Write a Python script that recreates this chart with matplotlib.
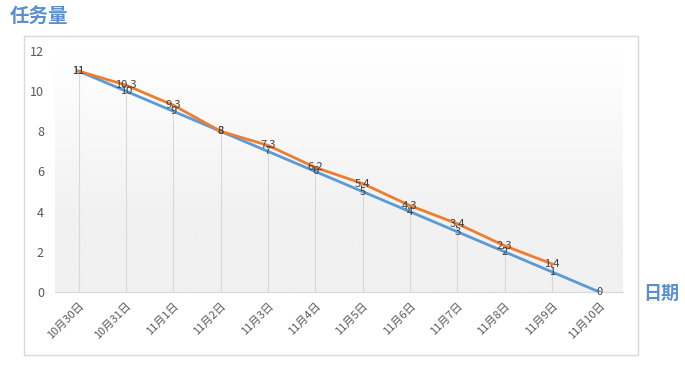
import matplotlib
matplotlib.use("Agg")
from matplotlib import pyplot as plt
import numpy as np

plt.rcParams["font.family"] = ["Noto Sans CJK SC", "DejaVu Sans"]

dates = ["10月30日", "10月31日", "11月1日", "11月2日", "11月3日", "11月4日",
         "11月5日", "11月6日", "11月7日", "11月8日", "11月9日", "11月10日"]
planned = [11, 10, 9, 8, 7, 6, 5, 4, 3, 2, 1, 0]
actual = [11, 10.3, 9.3, 8, 7.3, 6.2, 5.4, 4.3, 3.4, 2.3, 1.4]

blue = "#5B9BD5"
orange = "#ED7D31"
label_color = "#404040"
tick_color = "#595959"

fig = plt.figure(figsize=(6.85, 3.83), dpi=100)
ax = fig.add_axes([55 / 685, 1 - 292 / 383, 568 / 685, 241 / 383])

# chart area border
fig.patches.append(plt.Rectangle((24 / 685, 1 - 355 / 383), 614 / 685, 319 / 383,
                                 transform=fig.transFigure, fill=False,
                                 edgecolor="#d9d9d9", lw=1))

x = np.arange(len(dates))
xa = np.arange(len(actual))

# plot area gradient
grad = np.linspace(0, 1, 256).reshape(-1, 1)
grad = np.clip((grad - 0.3) / 0.7, 0, 1)
ax.imshow(grad, extent=[0, 1, 0, 1], transform=ax.transAxes, aspect="auto",
          cmap=matplotlib.colors.LinearSegmentedColormap.from_list("g", ["#f1f1f1", "#ffffff"]),
          origin="lower", zorder=0)

# drop lines
tops = [max(p, a) for p, a in zip(planned, actual)] + planned[len(actual):]
ax.vlines(x, 0, tops, color="#d9d9d9", lw=0.8, zorder=1)

ax.plot(x, planned, color=blue, lw=2, zorder=3)
ax.plot(xa, actual, color=orange, lw=2, zorder=3)

for xi, v in zip(x, planned):
    ax.text(xi, v, f"{v:g}", ha="center", va="center", fontsize=8, color=label_color, zorder=4)
for xi, v in zip(xa, actual):
    ax.text(xi, v, f"{v:g}", ha="center", va="center", fontsize=8, color=label_color, zorder=4)

ax.set_xlim(-0.5, len(dates) - 0.5)
ax.set_ylim(0, 12)
ax.set_yticks(range(0, 13, 2))
ax.set_xticks(x)
ax.set_xticklabels(dates, rotation=45, ha="right", va="top", rotation_mode="anchor",
                   fontsize=8, color=tick_color)
ax.tick_params(axis="y", length=0, labelsize=9, labelcolor=tick_color, pad=8)
ax.tick_params(axis="x", length=0, pad=6)
for s in ["top", "right", "left"]:
    ax.spines[s].set_visible(False)
ax.spines["bottom"].set_color("#d9d9d9")

fig.text(10 / 685, 1 - 17 / 383, "任务量", fontsize=14, color="#5B8FCB",
         ha="left", va="center", fontweight="bold")
fig.text(643 / 685, 1 - 293 / 383, "日期", fontsize=13, color="#5B8FCB",
         ha="left", va="center", fontweight="bold")

fig.savefig("out.png", dpi=100)
